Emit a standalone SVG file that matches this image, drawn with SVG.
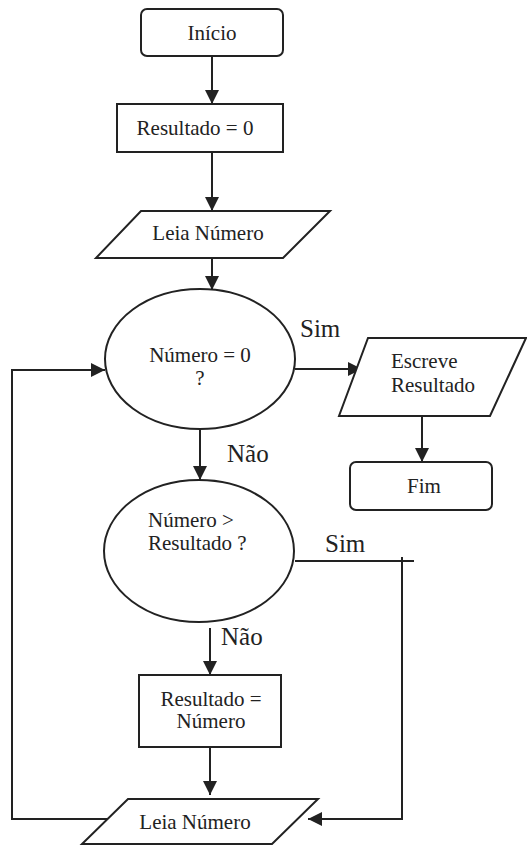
<svg xmlns="http://www.w3.org/2000/svg" width="527" height="846" viewBox="0 0 527 846">
<style>
.s{fill:#fff;stroke:#222;stroke-width:2}
.t{font-family:'Liberation Serif','Times New Roman',serif;font-size:21px;fill:#222}
.l{font-family:'Liberation Serif','Times New Roman',serif;font-size:25px;fill:#222}
.c{fill:none;stroke:#222;stroke-width:2}
</style>
<defs>
<marker id="a" markerUnits="userSpaceOnUse" markerWidth="14" markerHeight="14" viewBox="0 0 14 14" refX="14" refY="7" orient="auto">
<path d="M0,0 L14,7 L0,14 Z" fill="#222"/>
</marker>
</defs>
<rect width="527" height="846" fill="#fff"/>
<g id="connectors">
<line class="c" x1="212" y1="56" x2="212" y2="104" marker-end="url(#a)"/>
<line class="c" x1="212" y1="152" x2="212" y2="211" marker-end="url(#a)"/>
<line class="c" x1="212" y1="258" x2="212" y2="290" marker-end="url(#a)"/>
<line class="c" x1="295" y1="369" x2="362" y2="369" marker-end="url(#a)"/>
<line class="c" x1="422" y1="416" x2="422" y2="462" marker-end="url(#a)"/>
<line class="c" x1="200" y1="429" x2="200" y2="480" marker-end="url(#a)"/>
<line class="c" x1="295" y1="561" x2="414" y2="561"/>
<polyline class="c" points="402,557 402,819 308,819" marker-end="url(#a)"/>
<line class="c" x1="210" y1="628" x2="210" y2="675" marker-end="url(#a)"/>
<line class="c" x1="210" y1="747" x2="210" y2="795" marker-end="url(#a)"/>
<polyline class="c" points="108,819 12,819 12,370 105,370" marker-end="url(#a)"/>
<text class="l" x="300" y="337">Sim</text>
<text class="l" x="227" y="462">Não</text>
<text class="l" x="325" y="552">Sim</text>
<text class="l" x="221" y="645">Não</text>
</g>
<g id="inicio">
<rect class="s" x="141" y="9" width="142" height="47" rx="6"/>
<text class="t" x="212" y="40" text-anchor="middle">Início</text>
</g>
<g id="resultado0">
<rect class="s" x="117" y="104" width="166" height="48"/>
<text class="t" x="195" y="135" text-anchor="middle">Resultado = 0</text>
</g>
<g id="leia1">
<polygon class="s" points="141,211 330,211 283,258 96,258"/>
<text class="t" x="208" y="240" text-anchor="middle">Leia Número</text>
</g>
<g id="decisao1">
<ellipse class="s" cx="200" cy="359" rx="95" ry="70"/>
<text class="t" x="200" y="362" text-anchor="middle">Número = 0</text>
<text class="t" x="200" y="385" text-anchor="middle">?</text>
</g>
<g id="escreve">
<polygon class="s" points="368,338 526,338 490,416 339,416"/>
<text class="t" x="391" y="368">Escreve</text>
<text class="t" x="391" y="392">Resultado</text>
</g>
<g id="fim">
<rect class="s" x="350" y="462" width="142" height="48" rx="6"/>
<text class="t" x="424" y="493" text-anchor="middle">Fim</text>
</g>
<g id="decisao2">
<ellipse class="s" cx="199" cy="551" rx="95" ry="71"/>
<text class="t" x="148" y="527">Número &gt;</text>
<text class="t" x="148" y="550">Resultado ?</text>
</g>
<g id="atribui">
<rect class="s" x="139" y="675" width="142" height="72"/>
<text class="t" x="211" y="706" text-anchor="middle">Resultado =</text>
<text class="t" x="211" y="728" text-anchor="middle">Número</text>
</g>
<g id="leia2">
<polygon class="s" points="128,799 318,799 272,844 82,844"/>
<text class="t" x="195" y="829" text-anchor="middle">Leia Número</text>
</g>
</svg>
